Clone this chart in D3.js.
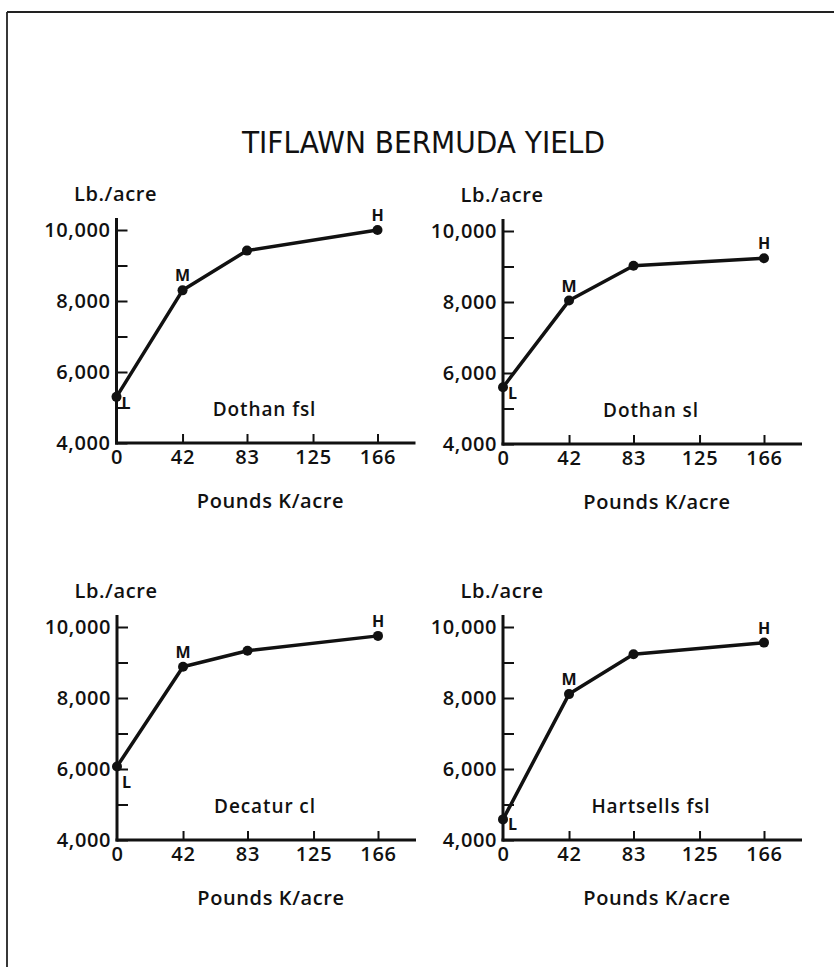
<!DOCTYPE html>
<html>
<head>
<meta charset="utf-8">
<script src="https://cdn.jsdelivr.net/npm/d3@7"></script>
<style>
body { margin: 0; background: #fff; }
text { font-family: 'Open Sans', 'DejaVu Sans', sans-serif; font-weight: 600; fill: #111; }
</style>
</head>
<body>
<svg width="834" height="967"></svg>
<script>
var svg = d3.select('svg');

var title = "TIFLAWN BERMUDA YIELD"

// Pounds K/acre applied (x axis)
var rates = [0, 42, 83, 125, 166]
var potassium = [0, 42, 83, 166]
var levels = ["L", "M", "", "H"]

var soils = ["Dothan fsl", "Dothan sl", "Decatur cl", "Hartsells fsl"]

// Lb./acre yield, one row per soil
var yields = [
	[5300, 8300, 9420, 10000],
	[5600, 8040, 9020, 9230],
	[6070, 8880, 9330, 9750],
	[4580, 8110, 9230, 9560]
]

var yTicks = [4000, 5000, 6000, 7000, 8000, 9000, 10000]

var yLabel = "Lb./acre"
var xLabel = "Pounds K/acre"

// where each small chart sits (left of y axis, bottom of x axis)
var panels = [
	{x: 116.5, y: 443, lDy: 12},
	{x: 503, y: 444, lDy: 12},
	{x: 117, y: 840, lDy: 21},
	{x: 503, y: 840, lDy: 11}
]

var plotW = 261, plotH = 213

var x = d3.scaleLinear().domain([0, 166]).range([0, plotW])
var y = d3.scaleLinear().domain([4000, 10000]).range([plotH, 0])

//Page frame
svg.append('line').attr('x1', 7).attr('y1', 12).attr('x2', 7).attr('y2', 967)
	.attr('stroke', '#222').attr('stroke-width', 1.8)
svg.append('line').attr('x1', 7).attr('y1', 12).attr('x2', 834).attr('y2', 12)
	.attr('stroke', '#222').attr('stroke-width', 1.8)

//Title
svg.append('text')
	.text(title)
	.attr('x', 423.5)
	.attr('y', 153)
	.attr('text-anchor', 'middle')
	.attr('font-size', 31)
	.attr('textLength', 363)
	.attr('lengthAdjust', 'spacingAndGlyphs')
	.style('font-family', "'Liberation Sans Narrow', 'DejaVu Sans Condensed', 'Liberation Sans', sans-serif")
	.style('font-stretch', 'condensed')
	.style('font-weight', 'normal')

var line = d3.line()
	.x(function(d) { return x(d[0]) })
	.y(function(d) { return y(d[1]) })

soils.forEach(function(soil, i) {
	var p = panels[i]
	var g = svg.append('g')
		.attr('transform', 'translate(' + p.x + ',' + (p.y - plotH) + ')')

	//Y axis with ticks pointing inwards
	var yAxis = g.append('g')
		.call(d3.axisLeft(y)
			.tickValues(yTicks)
			.tickSize(-11)
			.tickPadding(6)
			.tickFormat(function(d) { return d % 2000 === 0 ? d3.format(',')(d) : '' }))
	yAxis.select('.domain').remove()
	yAxis.selectAll('line').attr('stroke', '#111').attr('stroke-width', 2)
	yAxis.selectAll('text')
		.attr('font-size', 20)
		.style('letter-spacing', '0.6px')
		.attr('fill', '#111')
		.style('font-family', "'Open Sans', sans-serif")

	//X axis
	var xAxis = g.append('g')
		.attr('transform', 'translate(0,' + plotH + ')')
		.call(d3.axisBottom(x)
			.tickValues(rates)
			.tickSize(-9)
			.tickPadding(7))
	xAxis.select('.domain').remove()
	xAxis.selectAll('line').attr('stroke', '#111').attr('stroke-width', 2)
		.filter(function(d) { return d === 0 }).remove()
	xAxis.selectAll('text')
		.attr('font-size', 20)
		.style('letter-spacing', '0.8px')
		.attr('fill', '#111')
		.style('font-family', "'Open Sans', sans-serif")

	//Axis lines
	g.append('line').attr('x1', 0).attr('x2', 0)
		.attr('y1', y(10000) - 12).attr('y2', plotH + 1.5)
		.attr('stroke', '#111').attr('stroke-width', 3)
	g.append('line').attr('x1', -1.5).attr('x2', plotW + 38)
		.attr('y1', plotH).attr('y2', plotH)
		.attr('stroke', '#111').attr('stroke-width', 3)

	//Axis titles
	g.append('text').text(yLabel)
		.attr('x', -1).attr('y', y(10000) - 29)
		.attr('text-anchor', 'middle')
		.attr('font-size', 20)
		.style('letter-spacing', '0.6px')
	g.append('text').text(xLabel)
		.attr('x', 154).attr('y', plotH + 65)
		.attr('text-anchor', 'middle')
		.attr('font-size', 20)
		.style('letter-spacing', '0.6px')

	//Soil name
	g.append('text').text(soil)
		.attr('x', 148).attr('y', plotH - 27)
		.attr('text-anchor', 'middle')
		.attr('font-size', 19)
		.style('letter-spacing', '0.9px')

	var pts = potassium.map(function(k, j) { return [k, yields[i][j], levels[j]] })

	g.append('path')
		.datum(pts)
		.attr('d', line)
		.attr('fill', 'none')
		.attr('stroke', '#111')
		.attr('stroke-width', 3.5)
		.attr('stroke-linejoin', 'round')

	g.selectAll('circle')
		.data(pts)
		.enter()
		.append('circle')
		.attr('cx', function(d) { return x(d[0]) })
		.attr('cy', function(d) { return y(d[1]) })
		.attr('r', 5)
		.attr('fill', '#111')

	//L, M, H markers
	g.selectAll('text.lvl')
		.data(pts.filter(function(d) { return d[2] !== '' }))
		.enter()
		.append('text')
		.attr('class', 'lvl')
		.text(function(d) { return d[2] })
		.attr('x', function(d) { return d[2] === 'L' ? x(d[0]) + 5 : x(d[0]) })
		.attr('y', function(d) { return d[2] === 'L' ? y(d[1]) + p.lDy : y(d[1]) - 9 })
		.attr('text-anchor', function(d) { return d[2] === 'L' ? 'start' : 'middle' })
		.attr('font-size', 16)
		.style('font-weight', 700)
})
</script>
</body>
</html>
